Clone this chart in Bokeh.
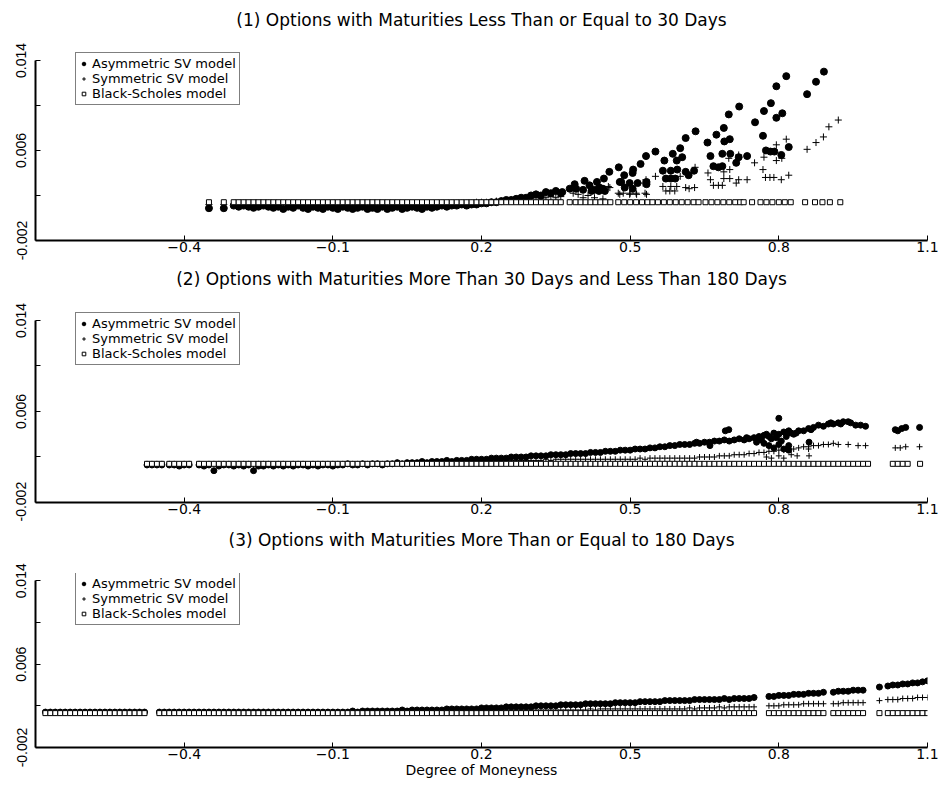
from bokeh.plotting import figure
from bokeh.models import Range1d, FixedTicker, Legend, LegendItem, Title
from bokeh.layouts import column
from bokeh.embed import file_html
from bokeh.resources import INLINE

# ---------------- shared axis / text data ----------------
x_ticks = [-0.4, -0.1, 0.2, 0.5, 0.8, 1.1]
y_ticks = [-0.002, 0.002, 0.006, 0.010, 0.014]
y_tick_labels = ["-0.002", "", "0.006", "", "0.014"]
series_names = ["Asymmetric SV model", "Symmetric SV model", "Black-Scholes model"]
titles = [
    "(1) Options with Maturities Less Than or Equal to 30 Days",
    "(2) Options with Maturities More Than 30 Days and Less Than 180 Days",
    "(3) Options with Maturities More Than or Equal to 180 Days",
]
x_label = "Degree of Moneyness"

# ---------------- panel 1 ----------------
p1_band_x = [-0.35, -0.32, -0.30, -0.29, -0.28, -0.27, -0.26, -0.25, -0.24, -0.23, -0.22, -0.21,
             -0.20, -0.19, -0.18, -0.17, -0.16, -0.15, -0.14, -0.13, -0.12, -0.11,
             -0.10, -0.09, -0.08, -0.07, -0.06, -0.05, -0.04, -0.03, -0.02, -0.01,
             0.00, 0.01, 0.02, 0.03, 0.04, 0.05, 0.06, 0.07, 0.08, 0.09,
             0.10, 0.11, 0.12, 0.13, 0.14, 0.15, 0.16, 0.17, 0.18, 0.19,
             0.20, 0.21, 0.22, 0.23, 0.24, 0.25, 0.26, 0.27, 0.28, 0.29,
             0.30, 0.31, 0.32, 0.33, 0.34, 0.35, 0.36]
p1_band_asym = [0.00087, 0.00087,
                0.0011, 0.0010, 0.0011, 0.0010, 0.0009, 0.0010, 0.0011, 0.0010, 0.0009, 0.0010,
                0.0008, 0.0010, 0.0009, 0.0011, 0.0009, 0.0008, 0.0010, 0.0009, 0.0008, 0.0010,
                0.0009, 0.0008, 0.0010, 0.0009, 0.0008, 0.0009, 0.0010, 0.0008, 0.0009, 0.0008,
                0.0010, 0.0008, 0.0009, 0.0010, 0.0008, 0.0009, 0.0010, 0.0009, 0.0008, 0.0010,
                0.0009, 0.0010, 0.0011, 0.0010, 0.0011, 0.0011, 0.0012, 0.0011, 0.0012, 0.0012,
                0.0013, 0.0013, 0.0014, 0.0014, 0.0015, 0.0016, 0.0016, 0.0017, 0.0018, 0.0018,
                0.0020, 0.0021, 0.0020, 0.0023, 0.0022, 0.0024, 0.0022]
p1_band_sym = [0.0012, 0.0012,
               0.0012, 0.0012, 0.0013, 0.0012, 0.0011, 0.0012, 0.0012, 0.0013, 0.0012, 0.0011,
               0.0012, 0.0012, 0.0011, 0.0012, 0.0012, 0.0011, 0.0012, 0.0012, 0.0011, 0.0012,
               0.0012, 0.0011, 0.0012, 0.0012, 0.0011, 0.0012, 0.0012, 0.0011, 0.0012, 0.0011,
               0.0012, 0.0011, 0.0012, 0.0012, 0.0011, 0.0012, 0.0012, 0.0012, 0.0011, 0.0012,
               0.0012, 0.0012, 0.0013, 0.0012, 0.0013, 0.0013, 0.0013, 0.0013, 0.0013, 0.0014,
               0.0014, 0.0014, 0.0014, 0.0015, 0.0015, 0.0015, 0.0016, 0.0016, 0.0016, 0.0017,
               0.0017, 0.0018, 0.0017, 0.0018, 0.0019, 0.0018, 0.0019]
p1_band_bs = [0.0014, 0.0014,
              0.0014, 0.0014, 0.0014, 0.0014, 0.0014, 0.0014, 0.0014, 0.0014, 0.0014, 0.0014,
              0.0014, 0.0014, 0.0014, 0.0014, 0.0014, 0.0014, 0.0014, 0.0014, 0.0014, 0.0014,
              0.0014, 0.0014, 0.0014, 0.0014, 0.0014, 0.0014, 0.0014, 0.0014, 0.0014, 0.0014,
              0.0014, 0.0014, 0.0014, 0.0014, 0.0014, 0.0014, 0.0014, 0.0014, 0.0014, 0.0014,
              0.0014, 0.0014, 0.0014, 0.0014, 0.0014, 0.0014, 0.0014, 0.0014, 0.0014, 0.0014,
              0.0014, 0.0014, 0.0014, 0.0014, 0.0014, 0.0014, 0.0014, 0.0014, 0.0014, 0.0014,
              0.0014, 0.0014, 0.0014, 0.0014, 0.0014, 0.0014, 0.0014]
p1_asym_x = [0.363, 0.378, 0.388, 0.391, 0.405, 0.408, 0.418, 0.422, 0.428, 0.433,
             0.437, 0.438, 0.445, 0.447, 0.449, 0.458, 0.477, 0.479, 0.482, 0.488,
             0.489, 0.499, 0.505, 0.505, 0.506, 0.515, 0.521, 0.532, 0.533, 0.533,
             0.551, 0.566, 0.569, 0.572, 0.582, 0.582, 0.586, 0.591, 0.594, 0.595,
             0.601, 0.605, 0.612, 0.612, 0.618, 0.629, 0.632, 0.656, 0.662, 0.668,
             0.674, 0.678, 0.686, 0.686, 0.689, 0.690, 0.699, 0.701, 0.702, 0.714,
             0.719, 0.720, 0.736, 0.752, 0.768, 0.770, 0.774, 0.783, 0.784, 0.791,
             0.795, 0.795, 0.805, 0.807, 0.815, 0.820, 0.857, 0.875, 0.891]
p1_asym_y = [0.0023, 0.0026, 0.0030, 0.0026, 0.0025, 0.0033, 0.0029, 0.0024, 0.0025, 0.0032,
             0.0024, 0.0027, 0.0026, 0.0035, 0.0024, 0.0041, 0.0045, 0.0032, 0.0032, 0.0038,
             0.0027, 0.0031, 0.0040, 0.0026, 0.0043, 0.0031, 0.0048, 0.0055, 0.0032, 0.0030,
             0.0059, 0.0042, 0.0051, 0.0035, 0.0042, 0.0035, 0.0057, 0.0035, 0.0051, 0.0043,
             0.0062, 0.0054, 0.0071, 0.0041, 0.0038, 0.0042, 0.0077, 0.0067, 0.0055, 0.0046,
             0.0074, 0.0045, 0.0057, 0.0046, 0.0080, 0.0068, 0.0092, 0.0070, 0.0057, 0.0049,
             0.0054, 0.0099, 0.0055, 0.0085, 0.0073, 0.0095, 0.0060, 0.0059, 0.0102, 0.0059,
             0.0117, 0.0089, 0.0056, 0.0093, 0.0126, 0.0063, 0.0110, 0.0121, 0.0130]
p1_sym_x = [0.385, 0.395, 0.405, 0.415, 0.428, 0.445, 0.456, 0.459, 0.476, 0.479,
            0.486, 0.499, 0.500, 0.512, 0.513, 0.526, 0.530, 0.532, 0.533, 0.551,
            0.566, 0.572, 0.580, 0.582, 0.590, 0.594, 0.601, 0.612, 0.619, 0.630,
            0.631, 0.657, 0.662, 0.668, 0.678, 0.686, 0.689, 0.689, 0.699, 0.701,
            0.701, 0.714, 0.719, 0.719, 0.736, 0.751, 0.768, 0.770, 0.773, 0.782,
            0.790, 0.795, 0.795, 0.805, 0.806, 0.815, 0.820, 0.857, 0.875, 0.890,
            0.901, 0.920]
p1_sym_y = [0.0022, 0.0021, 0.0018, 0.0020, 0.0018, 0.0017, 0.0028, 0.0027, 0.0022, 0.0021,
            0.0022, 0.0021, 0.0022, 0.0022, 0.0021, 0.0031, 0.0022, 0.0034, 0.0021, 0.0037,
            0.0028, 0.0024, 0.0024, 0.0028, 0.0024, 0.0028, 0.0037, 0.0027, 0.0026, 0.0027,
            0.0045, 0.0040, 0.0034, 0.0029, 0.0029, 0.0029, 0.0041, 0.0035, 0.0053, 0.0043,
            0.0035, 0.0031, 0.0056, 0.0034, 0.0034, 0.0049, 0.0043, 0.0054, 0.0036, 0.0036,
            0.0036, 0.0065, 0.0051, 0.0034, 0.0053, 0.0070, 0.0038, 0.0061, 0.0067, 0.0072,
            0.0081, 0.0087]
p1_bs_x = [0.378, 0.39, 0.40, 0.41, 0.42, 0.43, 0.44, 0.45, 0.46,
           0.476, 0.488, 0.50, 0.512, 0.524, 0.535,
           0.545, 0.556, 0.568, 0.58, 0.592, 0.604, 0.616, 0.628, 0.638,
           0.652, 0.664, 0.676, 0.688, 0.70, 0.712, 0.722,
           0.729, 0.746,
           0.763, 0.775, 0.787, 0.80, 0.812, 0.824,
           0.853, 0.873, 0.888, 0.903, 0.924]
p1_bs_y = [0.0014, 0.0014, 0.0014, 0.0014, 0.0014, 0.0014, 0.0014, 0.0014, 0.0014,
           0.0014, 0.0014, 0.0014, 0.0014, 0.0014, 0.0014,
           0.0014, 0.0014, 0.0014, 0.0014, 0.0014, 0.0014, 0.0014, 0.0014, 0.0014,
           0.0014, 0.0014, 0.0014, 0.0014, 0.0014, 0.0014, 0.0014,
           0.0014, 0.0014,
           0.0014, 0.0014, 0.0014, 0.0014, 0.0014, 0.0014,
           0.0014, 0.0014, 0.0014, 0.0014, 0.0014]

# ---------------- panel 2 ----------------
p2_band_x = [-0.475, -0.465, -0.455, -0.445,
             -0.43, -0.42, -0.41, -0.40, -0.39,
             -0.37, -0.36, -0.35, -0.34, -0.33, -0.32,
             -0.31, -0.30, -0.29, -0.28, -0.27, -0.26, -0.25, -0.24, -0.23, -0.22,
             -0.21, -0.20, -0.19, -0.18, -0.17, -0.16, -0.15, -0.14, -0.13, -0.12,
             -0.11, -0.10, -0.09, -0.08, -0.07, -0.06, -0.05, -0.04, -0.03, -0.02,
             -0.01, 0.00, 0.01, 0.02, 0.03, 0.04, 0.05, 0.06, 0.07, 0.08,
             0.09, 0.10, 0.11, 0.12, 0.13, 0.14, 0.15, 0.16, 0.17, 0.18,
             0.19, 0.20, 0.21, 0.22, 0.23, 0.24, 0.25, 0.26, 0.27, 0.28,
             0.29, 0.30, 0.31, 0.32, 0.33, 0.34, 0.35, 0.36, 0.37, 0.38,
             0.39, 0.40, 0.41, 0.42, 0.43, 0.44, 0.45, 0.46, 0.47, 0.48,
             0.49, 0.50, 0.51, 0.52, 0.53, 0.54, 0.55, 0.56, 0.57, 0.58,
             0.59, 0.60]
p2_band_asym = [0.0013, 0.0013, 0.0013, 0.0013,
                0.0013, 0.0013, 0.0012, 0.0013, 0.0013,
                0.0013, 0.0012, 0.0013, 0.0008, 0.0012, 0.0013,
                0.0013, 0.0012, 0.0013, 0.0012, 0.0013, 0.0008, 0.0012, 0.0012, 0.0013, 0.0012,
                0.0013, 0.0012, 0.0013, 0.0012, 0.0013, 0.0013, 0.0012, 0.0013, 0.0012, 0.0013,
                0.0013, 0.0012, 0.0013, 0.0013, 0.0014, 0.0013, 0.0013, 0.0014, 0.0013, 0.0014,
                0.0014, 0.0013, 0.0014, 0.0014, 0.0015, 0.0014, 0.0015, 0.0015, 0.0015, 0.0016,
                0.0015, 0.0016, 0.0016, 0.0016, 0.0017, 0.0016, 0.0017, 0.0017, 0.0017, 0.0018,
                0.0018, 0.0018, 0.0018, 0.0019, 0.0019, 0.0019, 0.0019, 0.0020, 0.0020, 0.0020,
                0.0020, 0.0021, 0.0021, 0.0021, 0.0021, 0.0022, 0.0022, 0.0022, 0.0022, 0.0023,
                0.0023, 0.0023, 0.0023, 0.0024, 0.0024, 0.0024, 0.0025, 0.0025, 0.0025, 0.0026,
                0.0026, 0.0026, 0.0027, 0.0027, 0.0027, 0.0028, 0.0028, 0.0029, 0.0029, 0.0030,
                0.0030, 0.0031]
p2_band_sym = [0.0014, 0.0014, 0.0014, 0.0014,
               0.0014, 0.0014, 0.0013, 0.0014, 0.0014,
               0.0014, 0.0013, 0.0014, 0.0014, 0.0014, 0.0014,
               0.0014, 0.0013, 0.0014, 0.0014, 0.0014, 0.0013, 0.0014, 0.0014, 0.0014, 0.0013,
               0.0014, 0.0014, 0.0013, 0.0014, 0.0014, 0.0014, 0.0013, 0.0014, 0.0014, 0.0014,
               0.0014, 0.0014, 0.0014, 0.0014, 0.0014, 0.0014, 0.0014, 0.0014, 0.0014, 0.0014,
               0.0014, 0.0014, 0.0014, 0.0014, 0.0015, 0.0014, 0.0015, 0.0015, 0.0015, 0.0015,
               0.0015, 0.0015, 0.0015, 0.0015, 0.0016, 0.0015, 0.0016, 0.0016, 0.0016, 0.0016,
               0.0016, 0.0016, 0.0016, 0.0016, 0.0017, 0.0016, 0.0017, 0.0017, 0.0017, 0.0017,
               0.0017, 0.0017, 0.0017, 0.0017, 0.0018, 0.0017, 0.0018, 0.0018, 0.0018, 0.0018,
               0.0018, 0.0018, 0.0018, 0.0018, 0.0018, 0.0018, 0.0018, 0.0018, 0.0018, 0.0018,
               0.0018, 0.0018, 0.0018, 0.0019, 0.0018, 0.0019, 0.0019, 0.0019, 0.0019, 0.0019,
               0.0019, 0.0019]
p2_band_bs = [0.0014, 0.0014, 0.0014, 0.0014,
              0.0014, 0.0014, 0.0014, 0.0014, 0.0014,
              0.0014, 0.0014, 0.0014, 0.0014, 0.0014, 0.0014,
              0.0014, 0.0014, 0.0014, 0.0014, 0.0014, 0.0014, 0.0014, 0.0014, 0.0014, 0.0014,
              0.0014, 0.0014, 0.0014, 0.0014, 0.0014, 0.0014, 0.0014, 0.0014, 0.0014, 0.0014,
              0.0014, 0.0014, 0.0014, 0.0014, 0.0014, 0.0014, 0.0014, 0.0014, 0.0014, 0.0014,
              0.0014, 0.0014, 0.0014, 0.0014, 0.0014, 0.0014, 0.0014, 0.0014, 0.0014, 0.0014,
              0.0014, 0.0014, 0.0014, 0.0014, 0.0014, 0.0014, 0.0014, 0.0014, 0.0014, 0.0014,
              0.0014, 0.0014, 0.0014, 0.0014, 0.0014, 0.0014, 0.0014, 0.0014, 0.0014, 0.0014,
              0.0014, 0.0014, 0.0014, 0.0014, 0.0014, 0.0014, 0.0014, 0.0014, 0.0014, 0.0014,
              0.0014, 0.0014, 0.0014, 0.0014, 0.0014, 0.0014, 0.0014, 0.0014, 0.0014, 0.0014,
              0.0014, 0.0014, 0.0014, 0.0014, 0.0014, 0.0014, 0.0014, 0.0014, 0.0014, 0.0014,
              0.0014, 0.0014]
p2_asym_x = [0.61, 0.62, 0.63, 0.634, 0.64, 0.65, 0.66, 0.661, 0.67, 0.68,
             0.69, 0.692, 0.699, 0.70, 0.71, 0.72, 0.73, 0.735, 0.74, 0.75,
             0.755, 0.76, 0.765, 0.77, 0.77, 0.775, 0.78, 0.78, 0.785, 0.79,
             0.79, 0.795, 0.80, 0.80, 0.80, 0.805, 0.81, 0.81, 0.815, 0.82,
             0.82, 0.82, 0.825, 0.83, 0.835, 0.84, 0.85, 0.86, 0.861, 0.865,
             0.87, 0.88, 0.89, 0.90, 0.905, 0.91, 0.92, 0.925, 0.93, 0.94,
             0.945, 0.955, 0.965, 0.975, 1.035, 1.04, 1.048, 1.056, 1.084]
p2_asym_y = [0.0031, 0.0031, 0.0032, 0.0033, 0.0032, 0.0033, 0.0033, 0.0030, 0.0034, 0.0034,
             0.0035, 0.0043, 0.0044, 0.0034, 0.0035, 0.0036, 0.0035, 0.0037, 0.0036, 0.0037,
             0.0033, 0.0038, 0.0035, 0.0039, 0.0032, 0.0040, 0.0038, 0.0030, 0.0036, 0.0041,
             0.0028, 0.0037, 0.0054, 0.0040, 0.0031, 0.0034, 0.0042, 0.0027, 0.0038, 0.0043,
             0.0030, 0.0026, 0.0041, 0.0040, 0.0041, 0.0043, 0.0043, 0.0045, 0.0033, 0.0044,
             0.0046, 0.0048, 0.0047, 0.0049, 0.0050, 0.0049, 0.0050, 0.0049, 0.0051, 0.0051,
             0.0050, 0.0048, 0.0048, 0.0047, 0.0044, 0.0043, 0.0045, 0.0046, 0.0046]
p2_sym_x = [0.61, 0.62, 0.63, 0.64, 0.65, 0.66, 0.67, 0.68, 0.69, 0.70,
            0.71, 0.72, 0.73, 0.74, 0.75, 0.76, 0.77, 0.775, 0.78, 0.785,
            0.79, 0.80, 0.80, 0.81, 0.81, 0.82, 0.825, 0.83, 0.837, 0.84,
            0.85, 0.86, 0.86, 0.861, 0.87, 0.88, 0.89, 0.90, 0.91, 0.92,
            0.94, 0.96, 0.975, 1.035, 1.045, 1.056, 1.084]
p2_sym_y = [0.0019, 0.0019, 0.0019, 0.0020, 0.0020, 0.0020, 0.0020, 0.0021, 0.0021, 0.0021,
            0.0022, 0.0022, 0.0022, 0.0023, 0.0023, 0.0024, 0.0024, 0.0020, 0.0025, 0.0019,
            0.0025, 0.0026, 0.0021, 0.0026, 0.0019, 0.0027, 0.0022, 0.0027, 0.0021, 0.0028,
            0.0029, 0.0029, 0.0027, 0.0021, 0.0030, 0.0030, 0.0031, 0.0031, 0.0032, 0.0031,
            0.0031, 0.0030, 0.0030, 0.0028, 0.0028, 0.0029, 0.0029]
p2_bs_x = [0.61, 0.62, 0.63, 0.64, 0.65, 0.66, 0.67, 0.68, 0.69, 0.70,
           0.71, 0.72, 0.73, 0.74, 0.75, 0.76, 0.77, 0.78, 0.79, 0.80,
           0.81, 0.82, 0.83, 0.84, 0.85, 0.86, 0.87, 0.88, 0.89, 0.90,
           0.91, 0.92, 0.93, 0.94, 0.95, 0.96, 0.97, 0.98,
           1.03, 1.04, 1.05, 1.06, 1.085]
p2_bs_y = [0.0014, 0.0014, 0.0014, 0.0014, 0.0014, 0.0014, 0.0014, 0.0014, 0.0014, 0.0014,
           0.0014, 0.0014, 0.0014, 0.0014, 0.0014, 0.0014, 0.0014, 0.0014, 0.0014, 0.0014,
           0.0014, 0.0014, 0.0014, 0.0014, 0.0014, 0.0014, 0.0014, 0.0014, 0.0014, 0.0014,
           0.0014, 0.0014, 0.0014, 0.0014, 0.0014, 0.0014, 0.0014, 0.0014,
           0.0014, 0.0014, 0.0014, 0.0014, 0.0014]

# ---------------- panel 3 ----------------
p3_band_x = [-0.68, -0.67, -0.66, -0.65, -0.64,
             -0.63, -0.62, -0.61, -0.60, -0.59, -0.58, -0.57, -0.56,
             -0.55, -0.54, -0.53, -0.52, -0.51, -0.50, -0.49, -0.48,
             -0.45, -0.44, -0.43, -0.42, -0.41,
             -0.40, -0.39, -0.38, -0.37, -0.36, -0.35, -0.34, -0.33, -0.32, -0.31,
             -0.30, -0.29, -0.28, -0.27, -0.26, -0.25, -0.24, -0.23, -0.22, -0.21,
             -0.20, -0.19, -0.18, -0.17, -0.16, -0.15, -0.14, -0.13, -0.12, -0.11,
             -0.10, -0.09, -0.08, -0.07, -0.06, -0.05, -0.04, -0.03, -0.02, -0.01,
             0.00, 0.01, 0.02, 0.03, 0.04, 0.05, 0.06, 0.07, 0.08, 0.09,
             0.10, 0.11, 0.12, 0.13, 0.14, 0.15, 0.16, 0.17, 0.18, 0.19,
             0.20, 0.21, 0.22, 0.23, 0.24, 0.25, 0.26, 0.27, 0.28, 0.29,
             0.30, 0.31, 0.32, 0.33, 0.34, 0.35, 0.36, 0.37, 0.38, 0.39,
             0.40, 0.41, 0.42, 0.43, 0.44, 0.45, 0.46, 0.47, 0.48, 0.49,
             0.50, 0.51, 0.52, 0.53, 0.54, 0.55, 0.56, 0.57, 0.58, 0.59,
             0.60, 0.61, 0.62, 0.63, 0.64, 0.65, 0.66, 0.67, 0.68, 0.69,
             0.70, 0.71, 0.72, 0.73, 0.74, 0.75]
p3_band_asym = [0.0014, 0.0014, 0.0014, 0.0014, 0.0014,
                0.0014, 0.0014, 0.0014, 0.0014, 0.0014, 0.0014, 0.0014, 0.0014,
                0.0014, 0.0014, 0.0014, 0.0014, 0.0014, 0.0014, 0.0014, 0.0014,
                0.0014, 0.0014, 0.0014, 0.0014, 0.0014,
                0.0014, 0.0014, 0.0014, 0.0014, 0.0014, 0.0014, 0.0014, 0.0014, 0.0014, 0.0014,
                0.0014, 0.0014, 0.0014, 0.0014, 0.0014, 0.0014, 0.0014, 0.0014, 0.0014, 0.0014,
                0.0014, 0.0014, 0.0014, 0.0014, 0.0014, 0.0014, 0.0014, 0.0014, 0.0014, 0.0014,
                0.0014, 0.0014, 0.0014, 0.0014, 0.0015, 0.0014, 0.0015, 0.0015, 0.0015, 0.0015,
                0.0015, 0.0015, 0.0015, 0.0015, 0.0016, 0.0015, 0.0016, 0.0016, 0.0016, 0.0016,
                0.0016, 0.0016, 0.0016, 0.0017, 0.0017, 0.0017, 0.0017, 0.0017, 0.0017, 0.0017,
                0.0018, 0.0018, 0.0018, 0.0018, 0.0018, 0.0019, 0.0019, 0.0019, 0.0019, 0.0019,
                0.0019, 0.0020, 0.0020, 0.0020, 0.0020, 0.0020, 0.0021, 0.0021, 0.0021, 0.0021,
                0.0021, 0.0022, 0.0022, 0.0022, 0.0022, 0.0022, 0.0022, 0.0023, 0.0023, 0.0023,
                0.0023, 0.0023, 0.0024, 0.0024, 0.0024, 0.0024, 0.0024, 0.0025, 0.0025, 0.0025,
                0.0025, 0.0025, 0.0025, 0.0026, 0.0026, 0.0026, 0.0026, 0.0026, 0.0026, 0.0027,
                0.0026, 0.0027, 0.0027, 0.0027, 0.0027, 0.0028]
p3_band_sym = [0.0014, 0.0014, 0.0014, 0.0014, 0.0014,
               0.0014, 0.0014, 0.0014, 0.0014, 0.0014, 0.0014, 0.0014, 0.0014,
               0.0014, 0.0014, 0.0014, 0.0014, 0.0014, 0.0014, 0.0014, 0.0014,
               0.0014, 0.0014, 0.0014, 0.0014, 0.0014,
               0.0014, 0.0014, 0.0014, 0.0014, 0.0014, 0.0014, 0.0014, 0.0014, 0.0014, 0.0014,
               0.0014, 0.0014, 0.0014, 0.0014, 0.0014, 0.0014, 0.0014, 0.0014, 0.0014, 0.0014,
               0.0014, 0.0014, 0.0014, 0.0014, 0.0014, 0.0014, 0.0014, 0.0014, 0.0014, 0.0014,
               0.0014, 0.0014, 0.0014, 0.0014, 0.0014, 0.0014, 0.0014, 0.0014, 0.0014, 0.0014,
               0.0014, 0.0014, 0.0014, 0.0014, 0.0014, 0.0015, 0.0014, 0.0015, 0.0015, 0.0015,
               0.0015, 0.0015, 0.0015, 0.0015, 0.0015, 0.0015, 0.0015, 0.0015, 0.0015, 0.0015,
               0.0015, 0.0015, 0.0015, 0.0016, 0.0015, 0.0016, 0.0016, 0.0016, 0.0016, 0.0016,
               0.0016, 0.0016, 0.0016, 0.0016, 0.0016, 0.0016, 0.0016, 0.0016, 0.0016, 0.0016,
               0.0016, 0.0016, 0.0017, 0.0016, 0.0017, 0.0017, 0.0017, 0.0017, 0.0017, 0.0017,
               0.0017, 0.0017, 0.0017, 0.0017, 0.0017, 0.0017, 0.0017, 0.0017, 0.0017, 0.0017,
               0.0017, 0.0017, 0.0018, 0.0017, 0.0018, 0.0018, 0.0018, 0.0018, 0.0019, 0.0018,
               0.0019, 0.0019, 0.0019, 0.0019, 0.0019, 0.0019]
p3_band_bs = [0.0013, 0.0013, 0.0013, 0.0013, 0.0013,
              0.0013, 0.0013, 0.0013, 0.0013, 0.0013, 0.0013, 0.0013, 0.0013,
              0.0013, 0.0013, 0.0013, 0.0013, 0.0013, 0.0013, 0.0013, 0.0013,
              0.0013, 0.0013, 0.0013, 0.0013, 0.0013,
              0.0013, 0.0013, 0.0013, 0.0013, 0.0013, 0.0013, 0.0013, 0.0013, 0.0013, 0.0013,
              0.0013, 0.0013, 0.0013, 0.0013, 0.0013, 0.0013, 0.0013, 0.0013, 0.0013, 0.0013,
              0.0013, 0.0013, 0.0013, 0.0013, 0.0013, 0.0013, 0.0013, 0.0013, 0.0013, 0.0013,
              0.0013, 0.0013, 0.0013, 0.0013, 0.0013, 0.0013, 0.0013, 0.0013, 0.0013, 0.0013,
              0.0013, 0.0013, 0.0013, 0.0013, 0.0013, 0.0013, 0.0013, 0.0013, 0.0013, 0.0013,
              0.0013, 0.0013, 0.0013, 0.0013, 0.0013, 0.0013, 0.0013, 0.0013, 0.0013, 0.0013,
              0.0013, 0.0013, 0.0013, 0.0013, 0.0013, 0.0013, 0.0013, 0.0013, 0.0013, 0.0013,
              0.0013, 0.0013, 0.0013, 0.0013, 0.0013, 0.0013, 0.0013, 0.0013, 0.0013, 0.0013,
              0.0013, 0.0013, 0.0013, 0.0013, 0.0013, 0.0013, 0.0013, 0.0013, 0.0013, 0.0013,
              0.0013, 0.0013, 0.0013, 0.0013, 0.0013, 0.0013, 0.0013, 0.0013, 0.0013, 0.0013,
              0.0013, 0.0013, 0.0013, 0.0013, 0.0013, 0.0013, 0.0013, 0.0013, 0.0013, 0.0013,
              0.0013, 0.0013, 0.0013, 0.0013, 0.0013, 0.0013]
p3_group_x = [0.78, 0.79, 0.80, 0.81, 0.82, 0.83, 0.84, 0.85, 0.86, 0.87, 0.88, 0.89,
              0.91, 0.92, 0.93, 0.94, 0.95, 0.96, 0.97,
              1.003, 1.02, 1.03, 1.04, 1.05, 1.06, 1.07, 1.08, 1.09, 1.10]
p3_group_asym = [0.0029, 0.0029, 0.0030, 0.0030, 0.0030, 0.0031, 0.0031, 0.0031, 0.0032, 0.0032, 0.0032, 0.0033,
                 0.0033, 0.0034, 0.0034, 0.0034, 0.0035, 0.0035, 0.0035,
                 0.0038, 0.0039, 0.0040, 0.0040, 0.0041, 0.0041, 0.0042, 0.0042, 0.0043, 0.0044]
p3_group_sym = [0.0020, 0.0020, 0.0020, 0.0021, 0.0021, 0.0021, 0.0021, 0.0022, 0.0022, 0.0022, 0.0022, 0.0022,
                0.0022, 0.0022, 0.0023, 0.0023, 0.0023, 0.0023, 0.0023,
                0.0025, 0.0026, 0.0026, 0.0026, 0.0027, 0.0027, 0.0027, 0.0028, 0.0028, 0.0028]
p3_group_bs = [0.0013, 0.0013, 0.0013, 0.0013, 0.0013, 0.0013, 0.0013, 0.0013, 0.0013, 0.0013, 0.0013, 0.0013,
               0.0013, 0.0013, 0.0013, 0.0013, 0.0013, 0.0013, 0.0013,
               0.0013, 0.0013, 0.0013, 0.0013, 0.0013, 0.0013, 0.0013, 0.0013, 0.0013, 0.0013]

FONT = "DejaVu Sans"
Y_TOP = 0.0147


def make_panel(title, xa, ya, xs, ys, xb, yb, height, top, bottom, legend_y,
               dot_size, gap, with_xlabel=False):
    p = figure(width=940, height=height, title=None,
               x_range=Range1d(-0.7, 1.1), y_range=Range1d(-0.002, Y_TOP),
               output_backend="svg", toolbar_location=None,
               min_border_left=35, min_border_right=13,
               min_border_top=top, min_border_bottom=bottom)
    p.outline_line_color = None
    p.grid.visible = False
    p.background_fill_color = "white"
    p.border_fill_color = "white"

    # spacer between frame and title (nearest the frame), then the title above it
    spacer = Title(text=" ", text_font_size="2px", standoff=gap)
    main_title = Title(text=title, align="center", vertical_align="top", standoff=0,
                       text_font=FONT, text_font_size="17px", text_font_style="normal",
                       text_color="black")
    p.add_layout(spacer, "above")
    p.add_layout(main_title, "above")

    xa_ = p.xaxis[0]
    xa_.ticker = FixedTicker(ticks=x_ticks)
    xa_.axis_line_width = 2
    xa_.axis_line_color = "black"
    xa_.major_tick_in = 5
    xa_.major_tick_out = 0
    xa_.major_tick_line_color = "black"
    xa_.minor_tick_line_color = None
    xa_.major_label_text_font = FONT
    xa_.major_label_text_font_size = "14px"
    xa_.major_label_text_color = "black"
    xa_.major_label_standoff = 1
    if with_xlabel:
        xa_.axis_label = x_label
        xa_.axis_label_text_font = FONT
        xa_.axis_label_text_font_size = "14px"
        xa_.axis_label_text_font_style = "normal"
        xa_.axis_label_text_color = "black"
        xa_.axis_label_standoff = 0

    ya_ = p.yaxis[0]
    ya_.ticker = FixedTicker(ticks=y_ticks)
    ya_.bounds = (y_ticks[0], y_ticks[-1])
    ya_.major_label_overrides = {t: l for t, l in zip(y_ticks, y_tick_labels)}
    ya_.major_label_orientation = "vertical"
    ya_.axis_line_width = 2
    ya_.axis_line_color = "black"
    ya_.major_tick_in = 5
    ya_.major_tick_out = 0
    ya_.minor_tick_line_color = None
    ya_.major_label_text_font = "Liberation Sans"
    ya_.major_label_text_font_size = "14px"
    ya_.major_label_text_color = "black"
    ya_.major_label_standoff = 9

    r_a = p.scatter(xa, ya, marker="circle", size=dot_size,
                    fill_color="black", line_color="black")
    r_s = p.scatter(xs, ys, marker="cross", size=dot_size,
                    line_color="black", line_width=1)
    r_b = p.scatter(xb, yb, marker="square", size=5,
                    fill_color="white", line_color="black", line_width=1)

    legend = Legend(items=[LegendItem(label=series_names[0], renderers=[r_a]),
                           LegendItem(label=series_names[1], renderers=[r_s]),
                           LegendItem(label=series_names[2], renderers=[r_b])],
                    location=(40, legend_y))
    legend.label_text_font = FONT
    legend.label_text_font_size = "13px"
    legend.label_text_color = "black"
    legend.label_height = 13
    legend.glyph_height = 13
    legend.glyph_width = 9
    legend.label_standoff = 4
    legend.padding = 3
    legend.spacing = 0
    legend.margin = 0
    legend.border_line_color = "black"
    legend.border_line_width = 1
    legend.background_fill_alpha = 1.0
    p.add_layout(legend)
    return p


p1 = make_panel(titles[0],
                p1_band_x + p1_asym_x, p1_band_asym + p1_asym_y,
                p1_band_x + p1_sym_x, p1_band_sym + p1_sym_y,
                p1_band_x + p1_bs_x, p1_band_bs + p1_bs_y,
                height=262, top=52, bottom=22, legend_y=135, dot_size=7, gap=17)
p2 = make_panel(titles[1],
                p2_band_x + p2_asym_x, p2_band_asym + p2_asym_y,
                p2_band_x + p2_sym_x, p2_band_sym + p2_sym_y,
                p2_band_x + p2_bs_x, p2_band_bs + p2_bs_y,
                height=259, top=50, bottom=19, legend_y=137, dot_size=6, gap=18)
p3 = make_panel(titles[2],
                p3_band_x + p3_group_x, p3_band_asym + p3_group_asym,
                p3_band_x + p3_group_x, p3_band_sym + p3_group_sym,
                p3_band_x + p3_group_x, p3_band_bs + p3_group_bs,
                height=259, top=52, bottom=33, legend_y=122, dot_size=6, gap=18,
                with_xlabel=True)

layout = column(p1, p2, p3, spacing=0)
open("out.html", "w").write(file_html(layout, INLINE))
